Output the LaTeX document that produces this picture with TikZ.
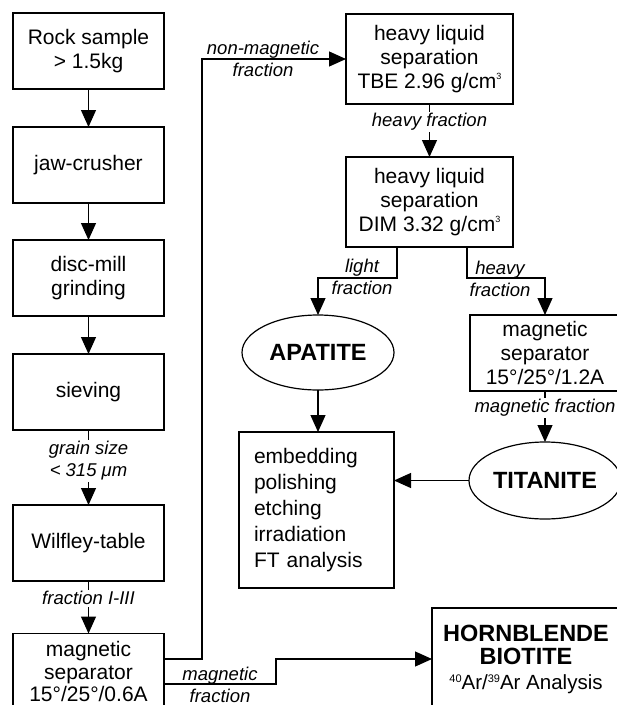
\documentclass[tikz,border=0pt]{standalone}
\usepackage{fontspec}
\setmainfont{Liberation Sans}
\usetikzlibrary{arrows.meta,shapes.geometric,calc}
\newcommand{\boxfont}{\fontsize{21}{24}\selectfont}
\newcommand{\lblfont}{\fontsize{18.5}{22}\selectfont\itshape}
\newcommand{\minfont}{\fontsize{23.5}{27}\selectfont\bfseries}
\newcommand{\mysupA}[1]{\raisebox{8.5pt}{\fontsize{9}{9}\selectfont #1}}
\newcommand{\mysupB}[1]{\raisebox{6.5pt}{\fontsize{11}{11}\selectfont #1}}
\begin{document}
\begin{tikzpicture}[x=1pt,y=-1pt,
  every node/.style={inner sep=0pt, outer sep=0pt},
  box/.style={draw, line width=1.2pt, align=center, font=\boxfont},
  oval/.style={draw, line width=1.2pt, ellipse, align=center, font=\minfont},
  lbl/.style={align=center, font=\lblfont},
  wlbl/.style={lbl, fill=white, inner xsep=1pt, inner ysep=1.5pt},
  arr/.style={line width=1.2pt, -{Triangle[length=17pt,width=15pt]}},
  conn/.style={line width=1.2pt}]
\clip (0,0) rectangle (617,705);
\fill[white] (0,0) rectangle (617,705);

% left column
\node[box, minimum width=151pt, minimum height=76pt] (rock) at (88.5,51) {Rock sample\\> 1.5kg};
\node[box, minimum width=151pt, minimum height=76pt] (jaw) at (88.5,165) {jaw-crusher};
\node[box, minimum width=151pt, minimum height=76pt] (disc) at (88.5,278) {disc-mill\\grinding};
\node[box, minimum width=151pt, minimum height=76pt] (sieve) at (88.5,392) {sieving};
\node[box, minimum width=151pt, minimum height=76pt] (wilf) at (88.5,543) {Wilfley-table};
\node[box, minimum width=151pt, minimum height=76pt, font=\fontsize{21}{22.5}\selectfont] (mag1) at (88.5,671.5) {magnetic\\separator\\15°/25°/0.6A};

% right part
\node[box, minimum width=167pt, minimum height=90pt] (hl1) at (429.5,59) {heavy liquid\\separation\\TBE 2.96 g/cm\mysupA{3}};
\node[box, minimum width=167pt, minimum height=90pt] (hl2) at (429.5,202) {heavy liquid\\separation\\DIM 3.32 g/cm\mysupA{3}};
\node[oval, minimum width=152pt, minimum height=75pt] (apat) at (318,352.5) {APATITE};
\node[box, minimum width=150pt, minimum height=76pt] (mag2) at (545,353) {magnetic\\separator\\15°/25°/1.2A};
\node[box, minimum height=156pt, text width=125pt, inner xsep=15pt, align=left,
      font=\fontsize{21}{25.8}\selectfont] (emb) at (316.5,510) {embedding\\polishing\\etching\\irradiation\\FT analysis};
\node[oval, minimum width=152pt, minimum height=77pt] (tit) at (545,480.5) {TITANITE};
\node[box, minimum width=188pt, minimum height=102pt] (horn) at (526,659)
  {\minfont HORNBLENDE\\[-1pt]\minfont BIOTITE\\[1pt]
   \fontsize{20.5}{24}\selectfont\mysupB{40}Ar/\mysupB{39}Ar Analysis};

% left column connectors
\draw[arr] (rock) -- (jaw);
\draw[arr] (jaw) -- (disc);
\draw[arr] (disc) -- (sieve);
\draw[arr] (sieve) -- node[wlbl, pos=0.41] {grain size\\< 315 μm} (wilf);
\draw[arr] (wilf) -- node[wlbl, pos=0.33] {fraction I-III} (mag1);

% non-magnetic fraction
\coordinate (nm) at (202,659);
\draw[arr] (nm -| mag1.east) -- (nm) |- (hl1.west);
\node[lbl] (nmlbl) at (263,59) {non-magnetic\\fraction};

% magnetic fraction to hornblende
\coordinate (mf) at (276,684);
\draw[arr] (mf -| mag1.east) -- (mf) |- (horn.west);
\node[lbl] (mflbl) at (220,685) {magnetic\\fraction};

% heavy liquid 1 -> 2
\draw[arr] (hl1) -- node[wlbl, pos=0.34] {heavy fraction} (hl2);

% split
\coordinate (lf) at (397,278);
\draw[arr] (lf |- hl2.south) -- (lf) -| (apat.north);
\node[lbl] (lflbl) at (362,277) {light\\fraction};
\coordinate (hf) at (467,278);
\draw[arr] (hf |- hl2.south) -- (hf) -| (mag2.north);
\node[lbl] (hflbl) at (500,279) {heavy\\fraction};

\draw[arr] (mag2) -- node[wlbl, pos=0.33] {magnetic fraction} (tit);
\draw[arr] (apat.south) -- (apat.south |- emb.north);
\draw[arr] (tit.west) -- (tit.west -| emb.east);
\end{tikzpicture}
\end{document}
